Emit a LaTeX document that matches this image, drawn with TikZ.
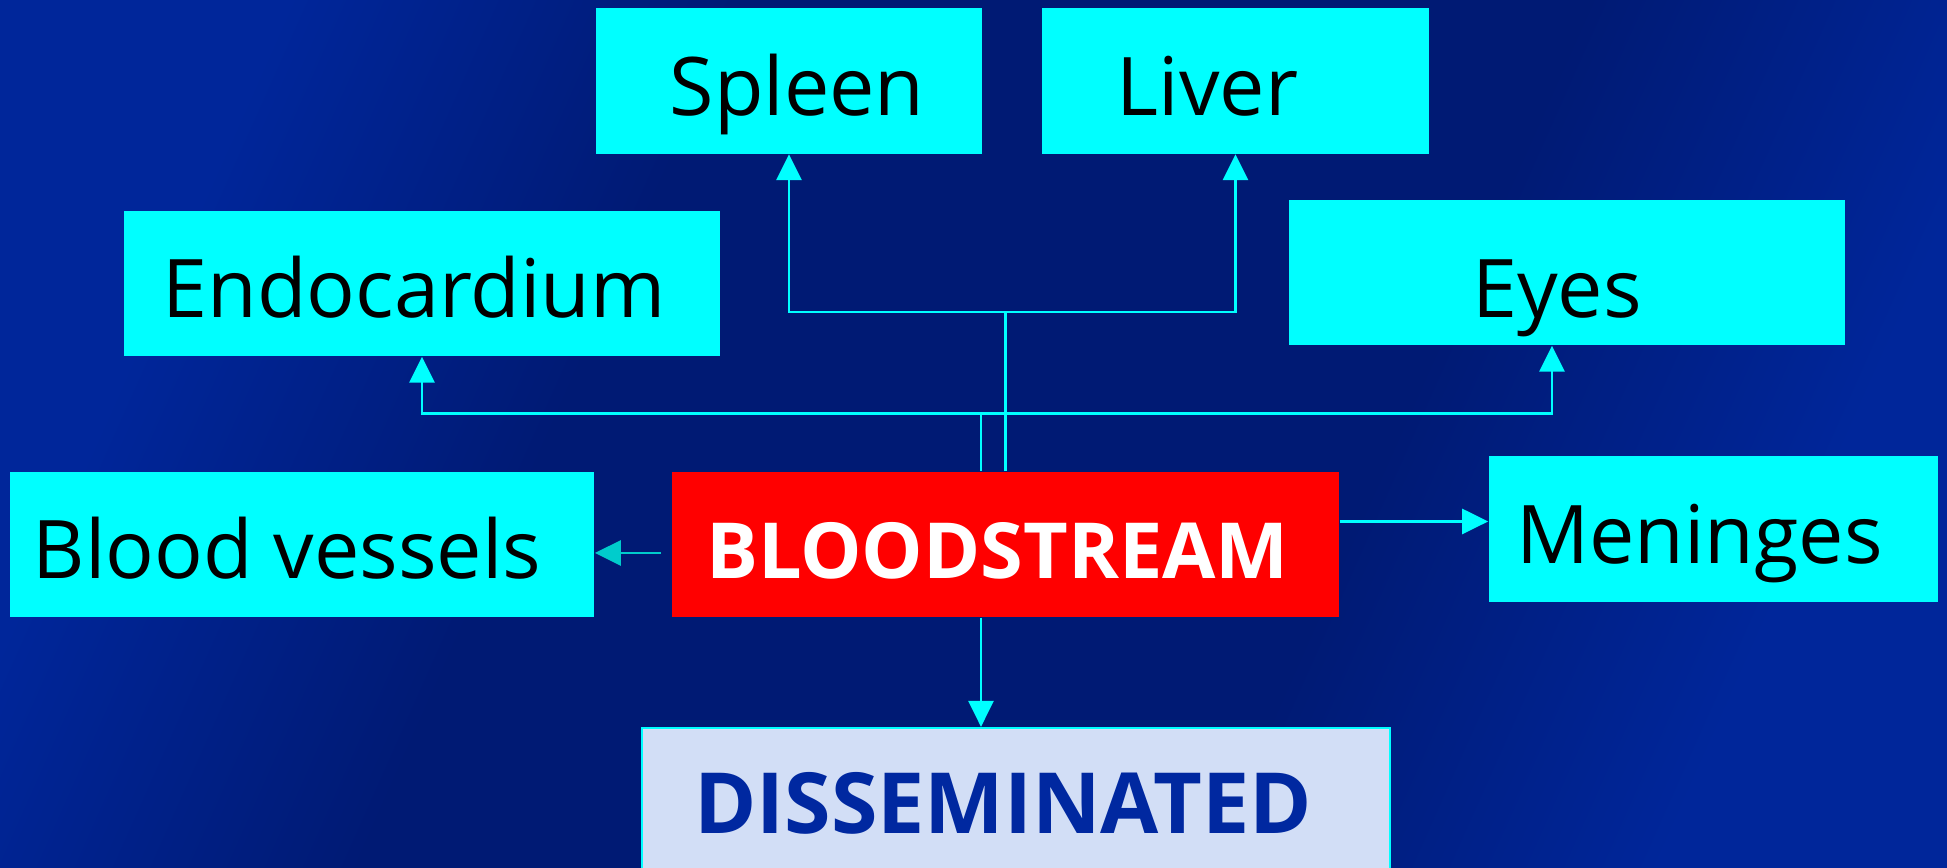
\documentclass[tikz,border=0pt]{standalone}
\usepackage{fontspec}
\setmainfont{Open Sans}
\usetikzlibrary{arrows.meta}
\definecolor{bgcorner}{RGB}{0,38,154}
\definecolor{bgdark}{RGB}{0,26,116}
\definecolor{boxcyan}{RGB}{0,255,255}
\definecolor{linkteal}{RGB}{0,204,204}
\definecolor{paleblue}{RGB}{210,222,246}
\definecolor{inkblue}{RGB}{0,40,160}
\pgfdeclarehorizontalshading{slidebg}{100bp}{color(0bp)=(bgcorner); color(25bp)=(bgcorner);
    color(38bp)=(bgdark); color(62bp)=(bgdark); color(75bp)=(bgcorner); color(100bp)=(bgcorner)}
\tikzset{
  organ/.style={fill=boxcyan, text=black, inner sep=0pt, minimum height=1.45cm,
    text height=0.69cm, text depth=0pt, font=\fontsize{23pt}{27pt}\selectfont},
  link/.style={draw=boxcyan, line width=0.8pt},
  linkarrow/.style={link, -{Triangle[length=0.26cm,width=0.25cm]}},
}
\begin{document}
\begin{tikzpicture}[x=0.01cm,y=0.01cm]
    \clip (0,0) rectangle (1947,868);
    \shade[shading=slidebg, shading angle=-24] (0,0) rectangle (1947,868);
    % organ boxes
    \node[organ, minimum width=3.86cm](spleen) at (789,787){\hspace*{0.16cm}Spleen};
    \node[organ, minimum width=3.87cm](liver) at (1235.5,787){Liver\hspace*{0.56cm}};
    \node[organ, minimum width=5.96cm](endo) at (422,584.5){Endocardium\hspace*{0.16cm}};
    \node[organ, minimum width=5.56cm, text height=0.89cm](eyes) at (1567,595.5){Eyes\hspace*{0.2cm}};
    \node[organ, minimum width=5.84cm](vessels) at (302,323.5){Blood vessels\hspace*{0.3cm}};
    \node[organ, minimum width=4.49cm](meninges) at (1713.5,339){Meninges\hspace*{0.28cm}};
    \node[fill=red, text=white, inner sep=0pt, minimum width=6.67cm, minimum height=1.45cm,
        text height=0.69cm, text depth=0pt,
        font=\fontsize{22pt}{26pt}\selectfont\bfseries](blood) at (1005.5,323.5){BLOODSTREAM\hspace*{0.16cm}};
    \node[fill=paleblue, draw=boxcyan, line width=0.6pt, text=inkblue, inner sep=0pt,
        minimum width=7.48cm, minimum height=1.5cm,
        font=\fontsize{24pt}{28pt}\selectfont\bfseries](dissem) at (1016,65){DISSEMINATED\hspace*{0.26cm}};
    % junctions
    \coordinate (upper) at (1005.5,556);
    \coordinate (lower) at (981,454.5);
    \coordinate (menlevel) at (1400,346.5);
    \coordinate (vstart) at (661,315);
    \draw[link] (blood.north) -- (upper);
    \draw[linkarrow] (upper) -| (spleen.south);
    \draw[linkarrow] (upper) -| (liver.south);
    \draw[link] (lower |- blood.north) -- (lower);
    \draw[linkarrow] (lower) -| (endo.south);
    \draw[linkarrow] (lower) -| ([xshift=-0.15cm]eyes.south);
    \draw[linkarrow] (blood.east |- menlevel) -- (meninges.west |- menlevel);
    \draw[linkarrow, draw=linkteal] (vstart) -- (vstart -| vessels.east);
    \draw[linkarrow] (lower |- blood.south) -- (lower |- dissem.north);
\end{tikzpicture}
\end{document}
